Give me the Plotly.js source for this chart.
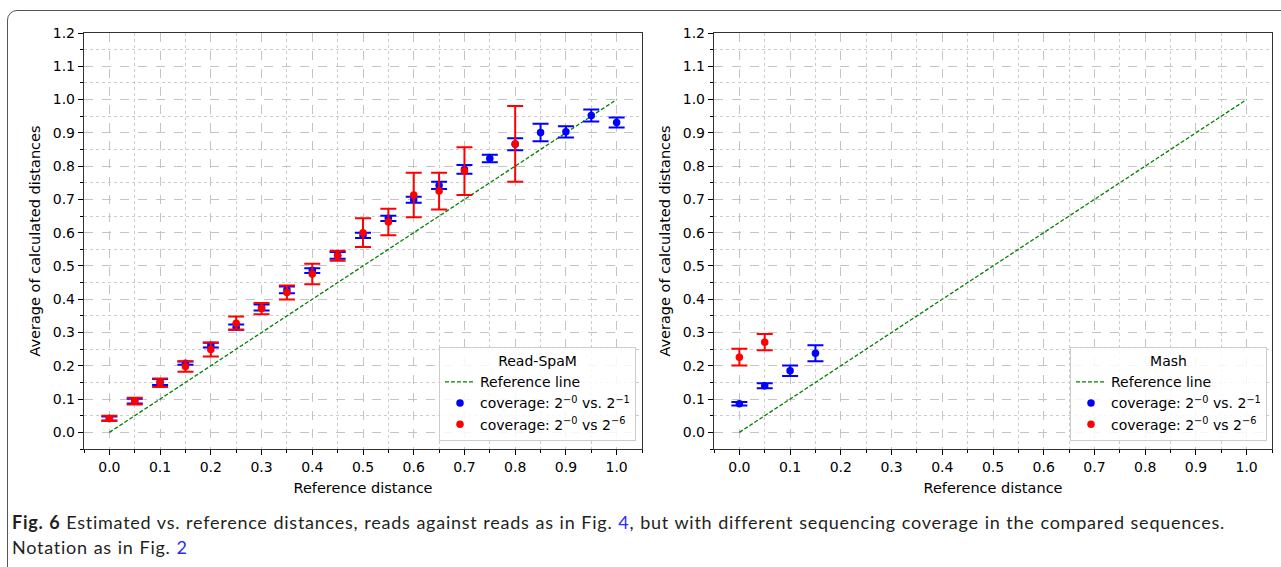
<!DOCTYPE html>
<html>
<head>
<meta charset="utf-8">
<script src="https://cdn.plot.ly/plotly-3.0.1.min.js"></script>
<style>
  html, body { margin:0; padding:0; width:1281px; height:567px; overflow:hidden; background:#fff; }
  #chart { position:absolute; left:0; top:0; width:1281px; height:567px; }
  #frame { position:absolute; left:7px; top:10px; width:1400px; height:700px; border:1px solid #555;
           border-radius:10px 0 0 0; pointer-events:none; box-sizing:border-box; }
  #caption { position:absolute; left:12px; top:510px; width:1265px; font-family:'Lato','Noto Sans',sans-serif;
             font-size:18px; letter-spacing:0.75px; word-spacing:0.5px; line-height:25px; color:#231f20; white-space:nowrap; }
  #caption a { color:#2b2bff; text-decoration:none; }
</style>
</head>
<body>
<div id="chart"></div>
<div id="frame"></div>
<div id="caption"><b>Fig. 6</b> Estimated vs. reference distances, reads against reads as in Fig. <a>4</a>, but with different sequencing coverage in the compared sequences.<br>Notation as in Fig. <a>2</a></div>
<script>
// ---- Data ----
const refX = [0, 1];
const refY = [0, 1];

// Read-SpaM, coverage 2^-0 vs. 2^-1 (blue)
const spamBlueX = [0, 0.05, 0.1, 0.15, 0.2, 0.25, 0.3, 0.35, 0.4, 0.45, 0.5, 0.55, 0.6, 0.65, 0.7, 0.75, 0.8, 0.85, 0.9, 0.95, 1.0];
const spamBlueY = [0.042, 0.094, 0.151, 0.208, 0.262, 0.316, 0.375, 0.428, 0.486, 0.532, 0.592, 0.643, 0.699, 0.742, 0.790, 0.823, 0.866, 0.901, 0.903, 0.952, 0.931];
const spamBlueErr = [0.006, 0.007, 0.009, 0.005, 0.007, 0.008, 0.009, 0.010, 0.007, 0.010, 0.008, 0.008, 0.009, 0.011, 0.013, 0.011, 0.018, 0.026, 0.017, 0.018, 0.015];

// Read-SpaM, coverage 2^-0 vs 2^-6 (red)
const spamRedX = [0, 0.05, 0.1, 0.15, 0.2, 0.25, 0.3, 0.35, 0.4, 0.45, 0.5, 0.55, 0.6, 0.65, 0.7, 0.8];
const spamRedY = [0.042, 0.094, 0.149, 0.198, 0.249, 0.328, 0.372, 0.420, 0.476, 0.531, 0.600, 0.632, 0.713, 0.725, 0.785, 0.867];
const spamRedErr = [0.008, 0.010, 0.013, 0.016, 0.021, 0.020, 0.017, 0.021, 0.031, 0.015, 0.043, 0.040, 0.067, 0.055, 0.072, 0.114];

// Mash, coverage 2^-0 vs. 2^-1 (blue)
const mashBlueX = [0, 0.05, 0.1, 0.15];
const mashBlueY = [0.086, 0.140, 0.185, 0.238];
const mashBlueErr = [0.0055, 0.0075, 0.016, 0.024];

// Mash, coverage 2^-0 vs 2^-6 (red)
const mashRedX = [0, 0.05];
const mashRedY = [0.226, 0.271];
const mashRedErr = [0.025, 0.0245];

const legendNames = ['Reference line', 'coverage: 2<sup>\u22120</sup> vs. 2<sup>\u22121</sup>', 'coverage: 2<sup>\u22120</sup> vs 2<sup>\u22126</sup>'];
const panelTitles = ['Read-SpaM', 'Mash'];

// ---- Layout helpers ----
const W = 1281, H = 567;
const px = x => x / W;
const py = y => 1 - y / H;

function refTrace(xa, ya, lg) {
  return {x: refX, y: refY, xaxis: xa, yaxis: ya, legend: lg, type: 'scatter', mode: 'lines',
          name: legendNames[0], line: {color: '#008000', width: 1.3, dash: '4px,2px'}};
}
function errTrace(xs, ys, es, color, name, xa, ya, lg) {
  return {x: xs, y: ys, xaxis: xa, yaxis: ya, legend: lg, type: 'scatter', mode: 'markers', name: name,
          marker: {color: color, size: 7.5},
          error_y: {type: 'data', array: es, visible: true, color: color, thickness: 2, width: 8}};
}

const data = [
  refTrace('x', 'y', 'legend'),
  errTrace(spamBlueX, spamBlueY, spamBlueErr, '#0000ff', legendNames[1], 'x', 'y', 'legend'),
  errTrace(spamRedX, spamRedY, spamRedErr, '#ff0000', legendNames[2], 'x', 'y', 'legend'),
  refTrace('x2', 'y2', 'legend2'),
  errTrace(mashBlueX, mashBlueY, mashBlueErr, '#0000ff', legendNames[1], 'x2', 'y2', 'legend2'),
  errTrace(mashRedX, mashRedY, mashRedErr, '#ff0000', legendNames[2], 'x2', 'y2', 'legend2')
];

function xAxis(dom) {
  return {domain: dom, range: [-0.05, 1.05], tick0: 0, dtick: 0.1, tickformat: '.1f',
          ticks: 'outside', ticklen: 5, tickwidth: 1, tickcolor: '#000',
          showline: true, linecolor: '#333', linewidth: 1.2, mirror: true, zeroline: false,
          showgrid: true, gridcolor: '#c4c4c4', griddash: 'dash', gridwidth: 1,
          minor: {dtick: 0.05, ticks: 'outside', ticklen: 3, tickcolor: '#000', showgrid: true, gridcolor: '#cccccc', griddash: 'dot'},
          tickfont: {size: 14}, title: {text: 'Reference distance', font: {size: 14.5}, standoff: 8}};
}
function yAxis(dom, anchor) {
  return {domain: dom, anchor: anchor, range: [-0.05, 1.2], tick0: 0, dtick: 0.1, tickformat: '.1f',
          ticks: 'outside', ticklen: 5, tickwidth: 1, tickcolor: '#000',
          showline: true, linecolor: '#333', linewidth: 1.2, mirror: true, zeroline: false,
          showgrid: true, gridcolor: '#c4c4c4', griddash: 'dash', gridwidth: 1,
          minor: {dtick: 0.05, ticks: 'outside', ticklen: 3, tickcolor: '#000', showgrid: true, gridcolor: '#cccccc', griddash: 'dot'},
          tickfont: {size: 14}, title: {text: 'Average of calculated distances', font: {size: 14.5}, standoff: 8}};
}
function legendCfg(xr, title) {
  return {x: px(xr), xanchor: 'right', y: py(347), yanchor: 'top', bgcolor: 'rgba(255,255,255,0.85)',
          bordercolor: '#cccccc', borderwidth: 1, font: {size: 14}, traceorder: 'normal',
          title: {text: title, side: 'top center', font: {size: 14}}};
}

const yDom = [py(449), py(33)];
const layout = {
  width: W, height: H, margin: {l: 0, r: 0, t: 0, b: 0},
  paper_bgcolor: 'rgba(0,0,0,0)', plot_bgcolor: '#ffffff',
  font: {family: 'DejaVu Sans', size: 14, color: '#000'},
  showlegend: true,
  xaxis: xAxis([px(84), px(642)]),
  yaxis: yAxis(yDom, 'x'),
  xaxis2: Object.assign(xAxis([px(714), px(1272)]), {anchor: 'y2'}),
  yaxis2: yAxis(yDom, 'x2'),
  legend: legendCfg(636, panelTitles[0]),
  legend2: legendCfg(1267, panelTitles[1])
};
layout.xaxis.anchor = 'y';

Plotly.newPlot('chart', data, layout, {staticPlot: true, displayModeBar: false});
</script>
</body>
</html>
